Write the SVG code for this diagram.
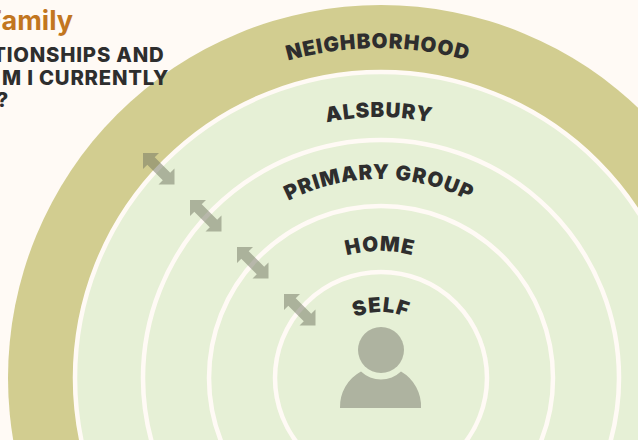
<svg xmlns="http://www.w3.org/2000/svg" width="638" height="440" viewBox="0 0 638 440">
<style>
.ring{stroke:#fffaf5;stroke-width:4.500;fill:#e6f0d6}
.lab{font-family:Inter,"Liberation Sans",sans-serif;font-weight:900;fill:#2e2e2e;text-anchor:middle;letter-spacing:1px;font-size:20.500px}
.head{font-family:Inter,"Liberation Sans",sans-serif;font-weight:800;fill:#2e2e2e;text-anchor:end;font-size:20.300px;letter-spacing:.8px}
.arr{fill:#6f7360;fill-opacity:.5}
</style>
<defs>
<path id="a1" d="M378 378m-330 0a330 330 0 0 1 660 0"/>
<path id="a2" d="M379 378m-261 0a261 261 0 0 1 522 0"/>
<path id="a3" d="M379 378m-199 0a199 199 0 0 1 398 0"/>
<path id="a4" d="M380 378m-127 0a127 127 0 0 1 254 0"/>
<path id="a5" d="M381 378m-66 0a66 66 0 0 1 132 0" />
<path id="dbl" d="M0 0L16 0L11.700 4.300L27.200 19.800L31.500 15.500L31.500 31.500L15.500 31.500L19.800 27.200L4.300 11.700L0 16Z"/>
</defs>
<rect width="638" height="440" fill="#fffaf5"/>
<g id="neighborhood"><circle cx="381" cy="378" r="373" fill="#d2cd90"/><text class="lab"><textPath href="#a1" startOffset="50%">NEIGHBORHOOD</textPath></text></g>
<g id="alsbury"><circle class="ring" cx="381" cy="378" r="306"/><text class="lab"><textPath href="#a2" startOffset="50%">ALSBURY</textPath></text></g>
<g id="primary-group"><circle class="ring" cx="381" cy="378" r="238"/><text class="lab"><textPath href="#a3" startOffset="50%">PRIMARY GROUP</textPath></text></g>
<g id="home"><circle class="ring" cx="381" cy="378" r="172"/><text class="lab"><textPath href="#a4" startOffset="50%">HOME</textPath></text></g>
<g id="self"><circle class="ring" cx="381" cy="378" r="106"/><text class="lab"><textPath href="#a5" startOffset="50%">SELF</textPath></text>
<circle cx="381" cy="350" r="23" fill="#aeb3a0"/>
<path d="M361 371.500A29 29 0 0 0 401 371.500A40 40 0 0 1 421 408L340 408A40 40 0 0 1 361 371.500Z" fill="#aeb3a0"/></g>
<g id="heading">
<text x="73" y="30" text-anchor="end" style="font-family:Inter,'Liberation Sans',sans-serif;font-weight:700;font-size:27px;fill:#c2761f">Family</text>
<text class="head" x="164.500" y="61.500">TIONSHIPS AND</text>
<text class="head" x="169" y="84.500">M I CURRENTLY</text>
<text class="head" x="9" y="107">?</text>
</g>
<g id="connectors">
<use href="#dbl" class="arr" x="143" y="153"/>
<use href="#dbl" class="arr" x="190" y="200"/>
<use href="#dbl" class="arr" x="237" y="247"/>
<use href="#dbl" class="arr" x="284" y="294"/>
</g>
</svg>
